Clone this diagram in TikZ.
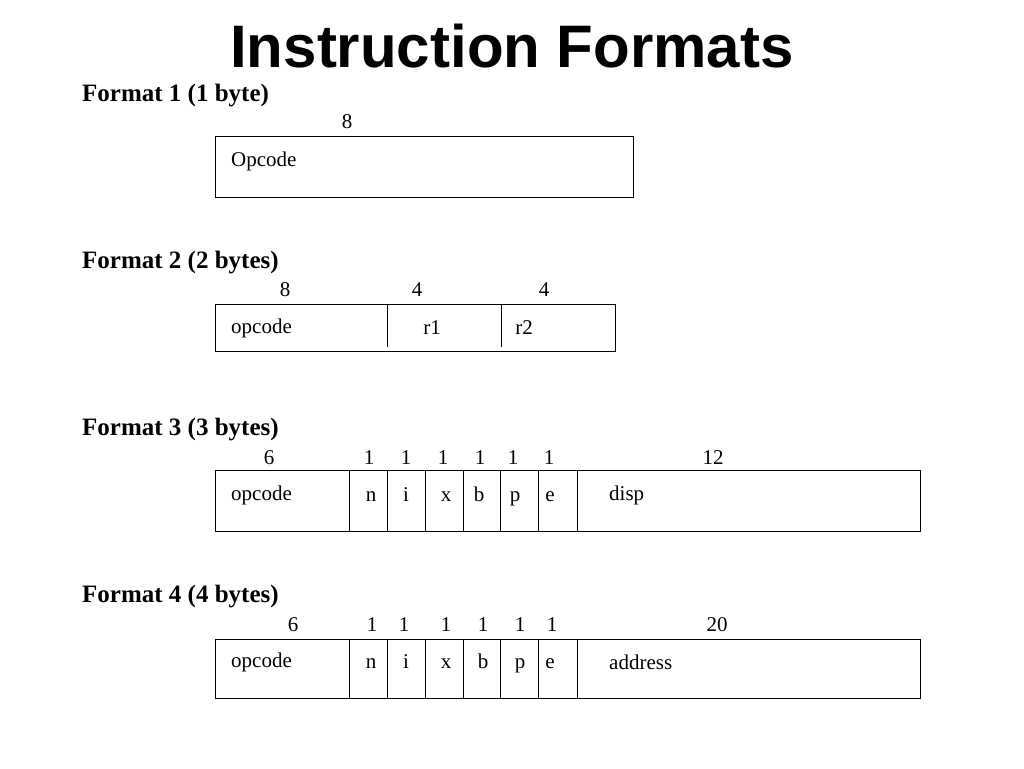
\documentclass[tikz,border=0pt]{standalone}
\usepackage{fontspec}
\setmainfont{Liberation Serif}
\newfontfamily\titlefont{Liberation Sans}
\begin{document}
\begin{tikzpicture}[x=1pt,y=-1pt,
  fbox/.style={draw,line width=0.8pt},
  lbl/.style={anchor=west,font=\bfseries\fontsize{25}{28}\selectfont,inner sep=0},
  num/.style={font=\fontsize{21}{24}\selectfont,inner sep=0},
  txt/.style={font=\fontsize{21}{24}\selectfont,inner sep=0},
  dv/.style={line width=0.8pt}]
\useasboundingbox (0,0) rectangle (1024,768);
\node[font=\titlefont\bfseries\fontsize{60}{64}\selectfont] (title) at (512,46) {Instruction Formats};
% Format 1
\node[lbl] (l1) at (82,96) {Format 1 (1 byte)};
\draw[fbox] (215,136) rectangle (633,197);
\node[num] (n1) at (347,122) {8};
\node[txt,anchor=west] (t1) at (231,161) {Opcode};
% Format 2
\node[lbl] (l2) at (82,263) {Format 2 (2 bytes)};
\draw[fbox] (215,304) rectangle (615,351);
\draw[dv] (387,304) -- (387,347); \draw[dv] (501,304) -- (501,347);
\node[num] at (285,290) {8}; \node[num] at (417,290) {4}; \node[num] at (544,290) {4};
\node[txt,anchor=west] at (231,328) {opcode};
\node[txt] at (432,328) {r1}; \node[txt] at (524,328) {r2};
% Format 3
\node[lbl] (l3) at (82,430) {Format 3 (3 bytes)};
\draw[fbox] (215,470) rectangle (920,531);
\foreach \x in {349,387,425,463,500,538,577} \draw[dv] (\x,470) -- (\x,531);
\foreach \x/\t in {269/6,369/1,406/1,443/1,480/1,513/1,549/1,713/12} \node[num] at (\x,458) {\t};
\node[txt,anchor=west] at (231,495) {opcode};
\foreach \x/\t in {371/n,406/i,446/x,479/b,515/p,550/e} \node[txt,anchor=base] at (\x,501) {\t};
\node[txt,anchor=west] at (609,495) {disp};
% Format 4
\node[lbl] (l4) at (82,597) {Format 4 (4 bytes)};
\draw[fbox] (215,639) rectangle (920,698);
\foreach \x in {349,387,425,463,500,538,577} \draw[dv] (\x,639) -- (\x,698);
\foreach \x/\t in {293/6,372/1,404/1,446/1,483/1,520/1,552/1,717/20} \node[num] at (\x,625) {\t};
\node[txt,anchor=west] at (231,662) {opcode};
\foreach \x/\t in {371/n,406/i,446/x,483/b,520/p,550/e} \node[txt,anchor=base] at (\x,668) {\t};
\node[txt,anchor=west] at (609,662) {address};
\end{tikzpicture}
\end{document}
